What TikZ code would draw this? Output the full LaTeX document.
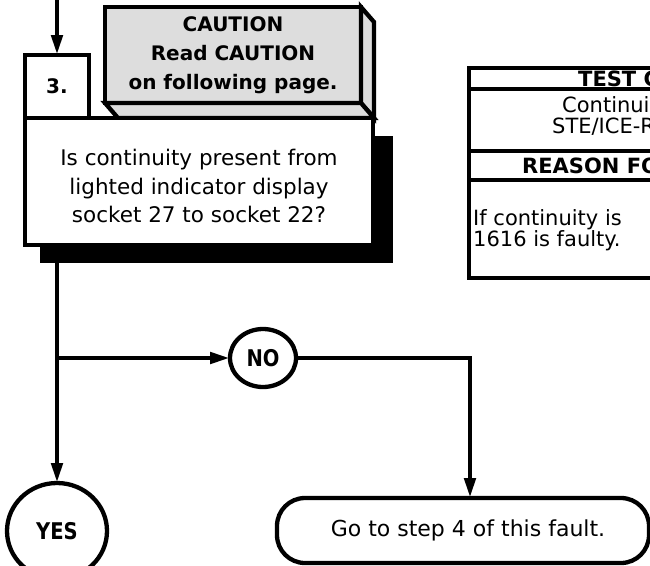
\documentclass[tikz,border=0pt]{standalone}
\usepackage{fontspec}
\setmainfont{DejaVu Sans}
\newfontfamily\condbold[FakeStretch=0.85]{DejaVu Sans Bold}
\usetikzlibrary{arrows.meta,shapes.geometric,backgrounds}
\definecolor{cautiongray}{HTML}{DDDDDD}
\begin{document}
\begin{tikzpicture}[x=1pt,y=-1pt,
  lw/.style={line width=4.3pt},
  boxline/.style={draw=black,lw,inner sep=0pt,outer sep=0pt},
  sqbox/.style={boxline,rectangle,fill=white},
  face/.style={draw=black,lw,fill=cautiongray},
  oval/.style={boxline,ellipse,fill=white,font=\condbold\fontsize{23}{26}\selectfont},
  conn/.style={draw=black,line width=4.6pt,-{Triangle[length=20pt,width=11pt]}},
  ln/.style={draw=black,lw},
  qtext/.style={align=center,inner sep=0pt,font=\fontsize{21.5}{28.5}\selectfont},
  ctext/.style={align=center,font=\bfseries\fontsize{20}{29}\selectfont},
  tbtext/.style={inner sep=0pt,anchor=base west,font=\fontsize{21}{24}\selectfont},
  tbhead/.style={tbtext,font=\bfseries\fontsize{21}{24}\selectfont},
]
\useasboundingbox (0,0) rectangle (650,565);
\begin{scope}
\clip (0,0) rectangle (650,565);

% caution box (3D)
\node[face,rectangle,inner sep=0pt,outer sep=0pt,minimum width=256pt,minimum height=96pt,ctext] (caution) at (233,55)
  {CAUTION\\Read CAUTION\\on following page.};
\filldraw[face] (caution.north east) -- ++(13,15) -- ++(0,96) -- (caution.south east) -- cycle;
\filldraw[face] (caution.south west) -- ++(13,15) -- ++(256,0) -- (caution.south east) -- cycle;

% step number box and question box
\node[sqbox,minimum width=64pt,minimum height=63pt,font=\bfseries\fontsize{20}{24}\selectfont] (box3) at (57,86.5) {3.};
\node[sqbox,minimum width=348pt,minimum height=127pt,
  label={[qtext,yshift=-4.5pt]center:Is continuity present from\\lighted indicator display\\socket 27 to socket 22?}] (q) at (199,181.5) {};
\begin{scope}[on background layer]
  \fill[black] ([shift={(15,18)}]q.north west) rectangle ([shift={(20,18)}]q.south east);
\end{scope}

% test / reason table (cut at the right edge)
\node[boxline,rectangle,minimum width=361pt,minimum height=210pt,anchor=north west] (tb) at (469,68) {};
\coordinate (tbr1) at (469,89);
\coordinate (tbr2) at (469,151);
\coordinate (tbr3) at (469,180);
\draw[ln] (tbr1) -- (tbr1 -| tb.east);
\draw[ln] (tbr2) -- (tbr2 -| tb.east);
\draw[ln] (tbr3) -- (tbr3 -| tb.east);
\node[tbhead] (t1) at (578,86) {TEST C};
\node[tbtext] (t2) at (562,112) {Continui};
\node[tbtext] (t3) at (552,133) {STE/ICE-R};
\node[tbhead] (t4) at (522,173) {REASON FO};
\node[tbtext] (t5) at (473,225) {If continuity is};
\node[tbtext] (t6) at (473,246) {1616 is faulty.};

% outcomes
\node[oval,minimum width=66pt,minimum height=58pt] (no) at (263,358) {NO};
\node[oval,minimum width=100pt,minimum height=96pt] (yes) at (57,531) {YES};
\node[sqbox,rounded corners=28pt,minimum width=372pt,minimum height=65pt,
  label={[inner sep=0pt,xshift=5pt,font=\fontsize{22}{26}\selectfont]center:Go to step 4 of this fault.}] (go) at (463,530.5) {};

% connectors
\coordinate (topin) at (57,-10);
\coordinate (goin) at ([xshift=7pt]go.north);
\draw[conn] (topin) -- (box3.north);
\draw[conn] (q.south -| box3) -- (yes.north);
\draw[conn] (box3 |- no) -- (no.west);
\draw[conn] (no.east) -| (goin);
\end{scope}
\end{tikzpicture}
\end{document}
